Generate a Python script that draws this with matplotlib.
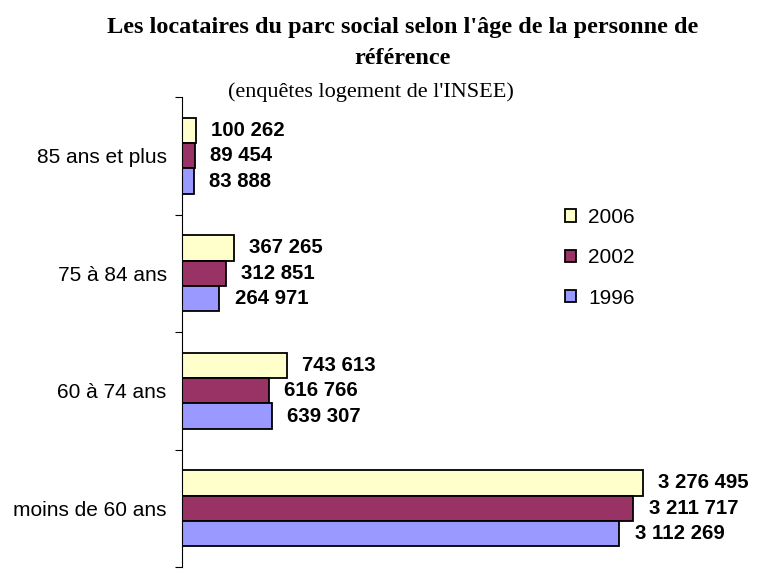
import matplotlib.pyplot as plt
import numpy as np

categories = ["85 ans et plus", "75 à 84 ans", "60 à 74 ans", "moins de 60 ans"]
years = ["2006", "2002", "1996"]
values_2006 = [100262, 367265, 743613, 3276495]
values_2002 = [89454, 312851, 616766, 3211717]
values_1996 = [83888, 264971, 639307, 3112269]
colors = ["#FFFFCC", "#993366", "#9999FF"]


def fmt(v):
    return f"{v:,}".replace(",", " ")


fig = plt.figure(figsize=(7.57, 5.70), dpi=100)
ax = fig.add_axes([182 / 757, 3 / 570, (674 - 182) / 757, (567 - 97) / 570])

y = np.arange(len(categories))
h = 0.217
series = [values_2006, values_2002, values_1996]
offsets = [-h, 0, h]
for vals, off, col, yr in zip(series, offsets, colors, years):
    bars = ax.barh(y + off, vals, height=h, color=col, edgecolor="black",
                   linewidth=1.3, label=yr)
    for b, v in zip(bars, vals):
        ax.annotate(fmt(v), (b.get_width(), b.get_y() + b.get_height() / 2),
                    xytext=(11, 0), textcoords="offset points", ha="left",
                    va="center", fontsize=14.7, fontweight="bold",
                    family="Liberation Sans", annotation_clip=False)

ax.set_xlim(0, 3.5e6)
ax.set_ylim(len(categories) - 0.5, -0.5)
ax.set_yticks(np.arange(-0.5, len(categories)), labels=[])
ax.set_yticks(y, labels=categories, minor=True)
ax.tick_params(axis="y", which="major", length=5, direction="out")
ax.tick_params(axis="y", which="minor", length=0, pad=11, labelsize=15)
for lab in ax.get_yticklabels(minor=True):
    lab.set_family("Liberation Sans")
ax.set_xticks([])
for s in ["top", "right", "bottom"]:
    ax.spines[s].set_visible(False)

leg = ax.legend(loc="upper left", bbox_to_anchor=(565 / 757, 1 - 208 / 570),
                bbox_transform=fig.transFigure, frameon=False,
                prop={"family": "Liberation Sans", "size": 15},
                handlelength=0.55, handleheight=0.55, labelspacing=1.02,
                handletextpad=0.55, borderaxespad=0, borderpad=0)

fig.text(0.532, 1 - 27 / 570, "Les locataires du parc social selon l'âge de la personne de",
         ha="center", va="center", fontsize=17.5, fontweight="bold",
         family="Liberation Serif")
fig.text(0.532, 1 - 58 / 570, "référence", ha="center", va="center",
         fontsize=17.5, fontweight="bold", family="Liberation Serif")
fig.text(0.49, 1 - 92 / 570, "(enquêtes logement de l'INSEE)", ha="center",
         va="center", fontsize=16, family="Liberation Serif")

fig.savefig("out.png", dpi=100)
